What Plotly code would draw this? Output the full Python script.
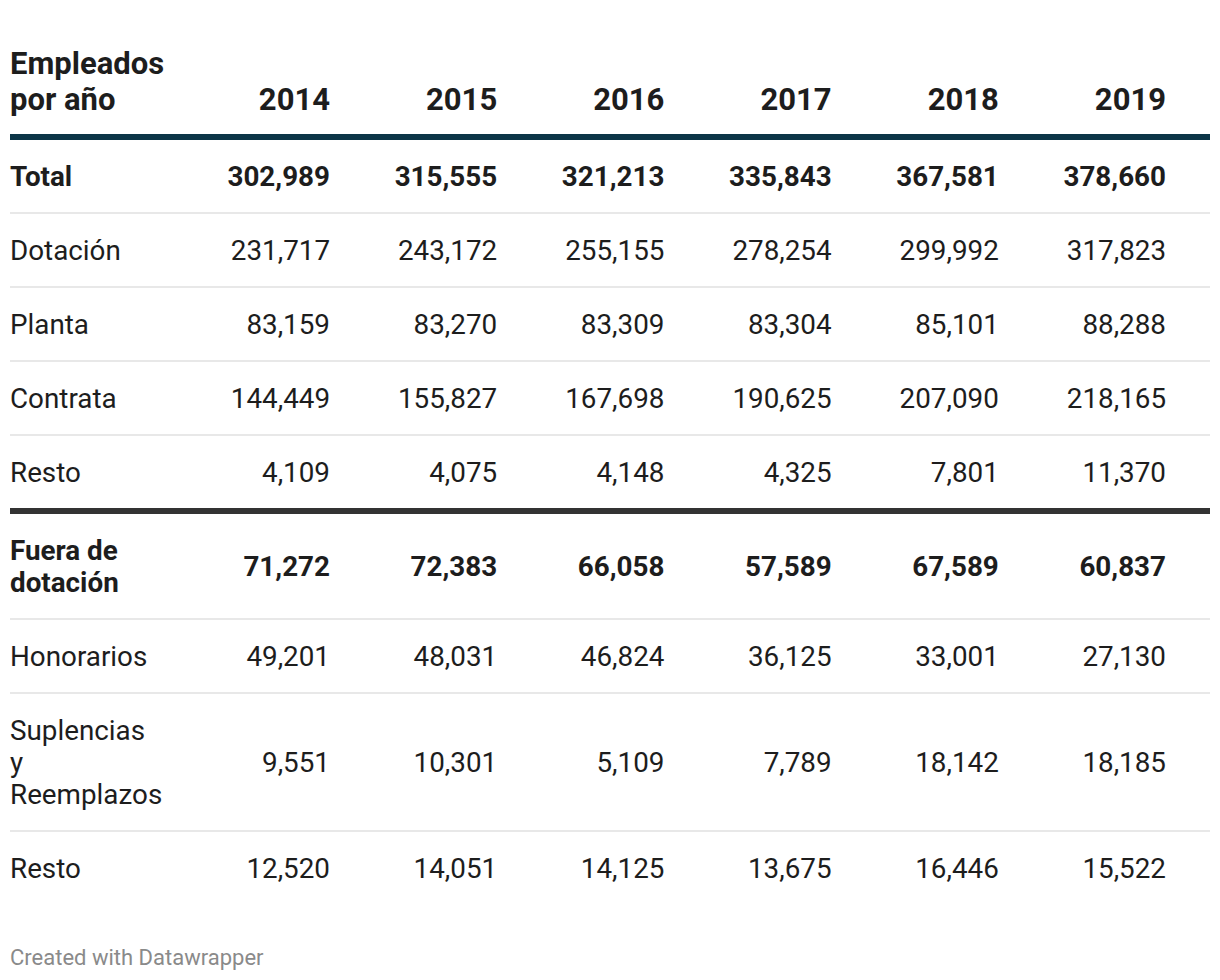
import plotly.graph_objects as go

# ---------------- data ----------------
years = ["2014", "2015", "2016", "2017", "2018", "2019"]
header_label = ["Empleados", "por año"]
row_labels = ["Total", "Dotación", "Planta", "Contrata", "Resto",
              "Fuera de dotación", "Honorarios", "Suplencias y Reemplazos", "Resto"]
# how each label wraps in the cell
label_lines = [["Total"], ["Dotación"], ["Planta"], ["Contrata"], ["Resto"],
               ["Fuera de", "dotación"], ["Honorarios"],
               ["Suplencias", "y", "Reemplazos"], ["Resto"]]
total = [302989, 315555, 321213, 335843, 367581, 378660]
dotacion = [231717, 243172, 255155, 278254, 299992, 317823]
planta = [83159, 83270, 83309, 83304, 85101, 88288]
contrata = [144449, 155827, 167698, 190625, 207090, 218165]
resto_dotacion = [4109, 4075, 4148, 4325, 7801, 11370]
fuera_dotacion = [71272, 72383, 66058, 57589, 67589, 60837]
honorarios = [49201, 48031, 46824, 36125, 33001, 27130]
suplencias = [9551, 10301, 5109, 7789, 18142, 18185]
resto_fuera = [12520, 14051, 14125, 13675, 16446, 15522]
rows = [total, dotacion, planta, contrata, resto_dotacion,
        fuera_dotacion, honorarios, suplencias, resto_fuera]
bold_rows = [True, False, False, False, False, True, False, False, False]
footer_text = "Created with Datawrapper"

# ---------------- layout / style constants ----------------
W, H = 1220, 980
LEFT, RIGHT = 10, 1210
COL0_RIGHT, COL_STEP = 330, 167.2
TEXT_DY = 3
HEADER_FIRST_Y, HEADER_LH = 63.5, 36
HEADER_LINE_Y, HEADER_LINE_W = 137, 6
BODY_TOP, ROW_PAD, LINE_H = 139, 42, 32
THIN_W, THICK_W = 2, 6
GROUP_BREAK_AFTER = 4
FOOTER_Y = 956
FONT = "Roboto, 'Open Sans', sans-serif"
FS = 27.8
HEADER_FS = 31
FOOTER_FS = 22
TXT = "#1d1d1d"
HEADER_LINE_COLOR = "#0c3547"
THICK_COLOR = "#333333"
THIN_COLOR = "#e8e8e8"
FOOTER_COLOR = "#8a8a8a"

col_x = [COL0_RIGHT + j * COL_STEP for j in range(len(years))]

# row geometry derived from number of label lines
centers, seps = [], []
y = BODY_TOP
for i, lines in enumerate(label_lines):
    h = ROW_PAD + LINE_H * len(lines)
    centers.append(y + h / 2)
    y += h
    if i == len(label_lines) - 1:
        break
    if i == GROUP_BREAK_AFTER:
        seps.append((y + 2, THICK_W, THICK_COLOR))
        y += 4
    else:
        seps.append((y, THIN_W, THIN_COLOR))

fig = go.Figure()

def add_text(xs, ys, texts, pos, bold, size=FS, color=TXT):
    fig.add_trace(go.Scatter(
        x=xs, y=[v + TEXT_DY for v in ys], text=texts, mode="text", textposition=pos,
        textfont=dict(family=FONT, size=size, color=color,
                      weight=700 if bold else 400),
        hoverinfo="skip", showlegend=False, cliponaxis=False))

# header
hy = [HEADER_FIRST_Y + k * HEADER_LH for k in range(len(header_label))]
add_text([LEFT] * len(header_label), hy, header_label, "middle right", True, size=HEADER_FS)
add_text(col_x, [hy[-1]] * len(years), years, "middle left", True, size=HEADER_FS)

# body labels and values
for bold in (True, False):
    lx, ly, lt = [], [], []
    nx, ny, nt = [], [], []
    for i, lines in enumerate(label_lines):
        if bold_rows[i] != bold:
            continue
        n = len(lines)
        for k, line in enumerate(lines):
            lx.append(LEFT)
            ly.append(centers[i] + (k - (n - 1) / 2) * LINE_H)
            lt.append(line)
        for j, v in enumerate(rows[i]):
            nx.append(col_x[j])
            ny.append(centers[i])
            nt.append(f"{v:,}")
    add_text(lx, ly, lt, "middle right", bold)
    add_text(nx, ny, nt, "middle left", bold)

# footer
add_text([LEFT], [FOOTER_Y], [footer_text], "middle right", False,
         size=FOOTER_FS, color=FOOTER_COLOR)

# rules
shapes = [dict(type="line", xref="x", yref="y", x0=LEFT, x1=RIGHT,
               y0=HEADER_LINE_Y, y1=HEADER_LINE_Y,
               line=dict(color=HEADER_LINE_COLOR, width=HEADER_LINE_W))]
for sy, sw, sc in seps:
    shapes.append(dict(type="line", xref="x", yref="y", x0=LEFT, x1=RIGHT,
                       y0=sy, y1=sy, line=dict(color=sc, width=sw), layer="below"))

fig.update_layout(
    width=W, height=H, margin=dict(l=0, r=0, t=0, b=0),
    paper_bgcolor="white", plot_bgcolor="white",
    xaxis=dict(range=[0, W], visible=False, fixedrange=True),
    yaxis=dict(range=[H, 0], visible=False, fixedrange=True),
    shapes=shapes, showlegend=False,
)

fig.write_html("out.html", config={"displayModeBar": False},
               post_script="document.body.style.margin='0';")
